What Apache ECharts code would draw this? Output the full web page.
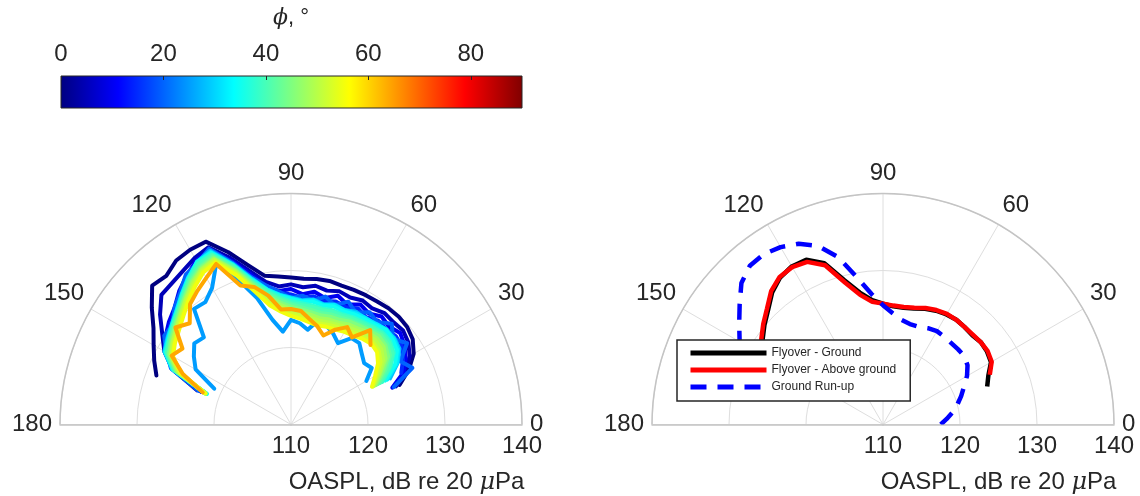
<!DOCTYPE html>
<html><head><meta charset="utf-8">
<script src="https://cdn.jsdelivr.net/npm/echarts@6/dist/echarts.min.js"></script>
<style>html,body{margin:0;padding:0;background:#fff}#c{width:1140px;height:496px}</style>
</head><body><div id="c"></div>
<script>
// ---------- data ----------
const THETA_L = [20,25,30,35,40,45,50,55,60,65,70,75,80,85,90,95,100,105,110,115,120,125,130,135,140,145,150,155,160];
const PHI = [0,5,10,15,20,25,28,32,35,38,40,42,45,48,50,52,55,64];
const R_PHI0  = [125.0,126.9,128.4,129.3,129.7,129.8,129.7,129.5,129.4,129.3,129.2,129.3,129.2,129.0,129.1,129.3,129.6,131.4,133.8,136.2,136.2,136.0,135.2,135.5,133.6,131.8,130.6,129.6,128.6];
const R_PHI5  = [124.5,126.5,127.8,128.6,129.0,128.8,128.9,128.4,128.6,128.2,128.4,128.0,128.3,127.9,128.2,128.0,128.8,130.6,133.0,135.4,135.0,134.4,134.0,133.8,132.2,130.4,129.0,127.0,123.0];
const R_PHI10 = [124.0,126.2,127.2,128.0,128.5,128.0,128.3,127.6,128.0,127.2,127.8,127.0,127.5,127.0,127.6,127.4,128.2,130.2,132.6,135.0,134.6,133.6,132.6,131.4,130.7,129.9,128.9,126.8,122.4];
const R_PHI15 = [null,125.8,126.8,127.6,127.8,127.5,127.6,127.0,127.4,126.8,127.0,126.6,126.9,126.5,126.9,127.2,128.0,129.8,132.3,134.8,134.3,133.4,132.3,131.0,130.4,129.6,128.8,126.9,122.0];
const R_PHI20 = [124.2,127.4,126.4,128.4,127.3,128.5,127.4,127.8,126.8,127.6,126.5,127.2,126.3,126.8,126.4,127.3,128.3,129.8,132.4,135.2,134.2,133.8,132.4,131.4,130.1,130.1,128.7,127.2,122.8];
const R_PHI25 = [null,null,121.3,122.8,122.4,123.0,123.8,123.7,122.2,123.0,123.6,124.1,122.5,123.2,123.6,122.1,123.8,127.0,130.0,133.0,130.5,129.4,129.6,126.0,126.4,125.4,124.3,121.0,null];
const R_PHI28 = [null,124.2,126.0,127.2,127.5,127.2,127.0,126.8,126.9,126.4,126.6,126.2,126.5,126.2,126.5,126.9,127.8,129.6,132.2,134.9,134.4,133.2,132.0,131.0,130.2,129.6,129.0,127.0,121.8];
const R_PHI32 = [null,123.8,125.9,127.0,127.4,127.5,127.1,126.9,126.7,126.4,126.5,126.1,126.4,126.1,126.4,126.9,127.8,129.5,132.1,134.7,134.3,133.3,132.1,131.0,130.2,129.5,128.9,127.0,121.7];
const R_PHI35 = [null,123.5,125.6,126.8,127.2,127.4,126.9,126.7,126.5,126.2,126.3,126.0,126.2,126.0,126.3,126.8,127.7,129.4,132.0,134.6,134.4,133.2,132.0,130.9,130.1,129.4,128.8,126.9,121.6];
const R_PHI38 = [null,123.1,124.9,126.3,126.8,126.9,126.6,126.3,126.1,125.8,125.8,125.6,125.7,125.8,126.0,126.6,127.6,129.2,131.9,134.4,134.2,133.1,131.9,130.8,130.0,129.3,128.7,126.8,121.7];
const R_PHI40 = [null,122.8,124.7,126.1,126.6,126.7,126.4,126.1,125.9,125.6,125.6,125.4,125.5,125.6,125.8,126.4,127.4,129.1,131.9,134.3,134.0,133.0,131.8,130.8,130.0,129.3,128.6,126.7,121.8];
const R_PHI42 = [null,122.5,124.2,125.7,126.3,126.5,126.1,125.8,125.6,125.3,125.2,125.0,125.1,125.3,125.6,126.2,127.2,128.9,131.6,134.1,133.7,132.8,131.6,130.6,129.8,129.1,128.4,126.5,121.8];
const R_PHI45 = [null,122.2,123.8,125.4,126.0,126.2,125.9,125.6,125.4,125.0,124.9,124.7,124.8,125.0,125.3,125.9,126.9,128.7,131.4,133.9,133.5,132.6,131.5,130.5,129.7,129.0,128.3,126.4,121.9];
const R_PHI48 = [null,122.0,123.4,125.0,125.7,125.8,125.6,125.2,125.0,124.6,124.5,124.3,124.5,124.7,125.0,125.6,126.6,128.4,131.2,133.7,133.3,132.4,131.3,130.3,129.5,128.8,128.1,126.2,121.9];
const R_PHI50 = [null,121.8,123.2,124.6,125.3,125.5,125.2,124.9,124.6,124.3,124.1,124.0,124.1,124.4,124.7,125.3,126.3,128.2,131.0,133.6,133.2,132.2,131.2,130.2,129.4,128.7,128.0,126.1,122.0];
const R_PHI52 = [null,121.7,122.9,124.2,124.9,125.1,124.8,124.5,124.2,124.0,123.8,123.6,123.8,124.1,124.4,125.0,126.0,128.0,130.8,133.4,133.0,132.0,131.0,130.0,129.2,128.5,127.8,125.9,121.9];
const R_PHI55 = [null,121.6,122.6,123.8,124.6,124.8,124.5,124.1,123.9,123.6,123.5,123.3,123.5,123.8,124.1,124.7,125.7,127.8,130.6,133.2,132.8,131.8,130.8,129.8,129.0,128.4,127.7,125.8,121.8];
const R_PHI64 = [null,null,null,null,null,124.6,126.0,123.8,124.6,123.6,122.3,123.2,123.9,124.8,125.0,125.0,127.0,128.5,129.2,133.0,132.0,131.2,130.4,128.6,129.6,127.2,127.9,125.5,122.2];
const LEFT_R = [R_PHI0,R_PHI5,R_PHI10,R_PHI15,R_PHI20,R_PHI25,R_PHI28,R_PHI32,R_PHI35,R_PHI38,R_PHI40,R_PHI42,R_PHI45,R_PHI48,R_PHI50,R_PHI52,R_PHI55,R_PHI64];

const THETA_R = [0,5,10,15,20,25,30,35,40,45,50,55,60,65,70,75,80,85,90,95,100,105,110,115,120,125,130,135,140,145,150,155,160];
const FLYOVER_GROUND = [null,null,null,null,124.4,125.1,126.2,126.5,126.6,126.4,126.5,126.6,126.5,126.3,126.0,125.6,125.4,125.4,125.7,126.2,127.4,129.4,132.3,133.6,133.7,133.3,132.4,131.1,130.1,129.1,127.6,125.3,122.3];
const FLYOVER_ABOVE  = [null,null,null,null,null,125.3,126.3,126.6,126.6,126.5,126.5,126.6,126.6,126.4,126.1,125.7,125.5,125.5,125.7,126.0,127.1,129.1,132.0,133.3,133.6,133.4,132.6,131.3,130.3,129.3,127.8,125.5,122.5];
const GROUND_RUNUP   = [117.5,118.3,119.2,120.0,120.8,121.6,122.6,123.4,123.8,123.8,123.8,123.9,124.0,123.8,123.5,123.5,123.8,124.5,125.5,127.0,129.4,132.5,134.7,135.9,136.6,137.0,136.9,136.0,134.3,132.8,131.5,130.0,128.5];
const LEGEND_NAMES = ['Flyover - Ground','Flyover - Above ground','Ground Run-up'];

const ANGLE_RANGE = [0,180];
const ANGLE_STEP = 30;
const RADIUS_RANGE = [110,140];
const RADIUS_STEP = 10;
const CBAR_RANGE = [0,90];
const CBAR_STEP = 20;

// ---------- style ----------
const FONT = '"Liberation Sans", Arial, Helvetica, sans-serif';
const TXT = '#262626';
const GRID_C = '#dedede';
const EDGE_C = '#c4c4c4';
const JET_STOPS = [
  {offset:0, color:'#000080'},{offset:0.125, color:'#0000ff'},{offset:0.375, color:'#00ffff'},
  {offset:0.625, color:'#ffff00'},{offset:0.875, color:'#ff0000'},{offset:1, color:'#800000'}];
function jet(v){
  const c = x => Math.round(255*Math.max(0, Math.min(1, 1.5 - Math.abs(x))));
  return 'rgb(' + c(4*v-3) + ',' + c(4*v-2) + ',' + c(4*v-1) + ')';
}
const CX_L = 291, CX_R = 883, CY = 424.5, RAD = 231;

function mainAngle(i){
  return {polarIndex:i, type:'value', min:ANGLE_RANGE[0], max:ANGLE_RANGE[1], interval:ANGLE_STEP,
    startAngle:0, endAngle:180, clockwise:false,
    axisLine:{show:true, lineStyle:{color:EDGE_C, width:1.5}},
    axisTick:{show:false},
    axisLabel:{show:true, margin:8, fontSize:24, color:TXT, fontFamily:FONT},
    splitLine:{show:true, lineStyle:{color:GRID_C, width:1}}, z:1};
}
function helperAngle(i){
  return {polarIndex:i, type:'value', min:ANGLE_RANGE[0], max:ANGLE_RANGE[1],
    startAngle:180, endAngle:0, clockwise:true,
    axisLine:{show:false}, axisTick:{show:false}, axisLabel:{show:false}, splitLine:{show:false}};
}
function mainRadius(i){
  return {polarIndex:i, type:'value', min:RADIUS_RANGE[0], max:RADIUS_RANGE[1], interval:RADIUS_STEP,
    axisLine:{show:true, lineStyle:{color:EDGE_C, width:1.5}},
    axisTick:{show:false}, axisLabel:{show:false},
    splitLine:{show:true, lineStyle:{color:GRID_C, width:1}}, z:1};
}
function helperRadius(i){
  return {polarIndex:i, type:'value', min:RADIUS_RANGE[0], max:RADIUS_RANGE[1],
    axisLine:{show:true, lineStyle:{color:EDGE_C, width:1.5}},
    axisTick:{show:false}, axisLabel:{show:false}, splitLine:{show:false}, z:1};
}
function radLabelAxis(g){
  return {gridIndex:g, type:'value', min:RADIUS_RANGE[0], max:RADIUS_RANGE[1], interval:RADIUS_STEP,
    axisLine:{show:false, onZero:false}, axisTick:{show:false}, splitLine:{show:false},
    axisLabel:{fontSize:24, color:TXT, fontFamily:FONT, margin:10},
    name:'OASPL, dB re 20 {i|\u03bc}Pa', nameLocation:'middle', nameGap:46,
    nameTextStyle:{fontSize:24, color:TXT, fontFamily:FONT,
      rich:{i:{fontSize:24, fontStyle:'italic', fontFamily:'"DejaVu Serif", serif', color:TXT}}}};
}
function toPolar(R, TH){
  return TH.map((t,i)=>[R[i], t]).filter(d=>d[0]!==null);
}

const series = [];
// colorbar
series.push({type:'custom', xAxisIndex:0, yAxisIndex:0, silent:true, z:1,
  data:[[CBAR_RANGE[0], CBAR_RANGE[1]]],
  renderItem:function(params, api){
    const p0 = api.coord([api.value(0), 0]);
    const p1 = api.coord([api.value(1), 1]);
    return {type:'rect', shape:{x:p0[0], y:p1[1], width:p1[0]-p0[0], height:p0[1]-p1[1]},
      style:{fill:new echarts.graphic.LinearGradient(0,0,1,0,JET_STOPS), stroke:TXT, lineWidth:1}};
  }});
// left plot
PHI.forEach((phi,k)=>{
  series.push({type:'line', coordinateSystem:'polar', polarIndex:0, symbol:'none', silent:true, z:3,
    data:toPolar(LEFT_R[k], THETA_L),
    lineStyle:{color:jet(phi/90), width:4, join:'round', cap:'round'},
    itemStyle:{color:jet(phi/90)}});
});
// right plot
series.push({name:LEGEND_NAMES[0], type:'line', coordinateSystem:'polar', polarIndex:2, symbol:'none', z:3,
  data:toPolar(FLYOVER_GROUND, THETA_R), lineStyle:{color:'#000000', width:4.5}, itemStyle:{color:'#000000'}});
series.push({name:LEGEND_NAMES[1], type:'line', coordinateSystem:'polar', polarIndex:2, symbol:'none', z:3,
  data:toPolar(FLYOVER_ABOVE, THETA_R), lineStyle:{color:'#ff0000', width:4.5}, itemStyle:{color:'#ff0000'}});
series.push({name:LEGEND_NAMES[2], type:'line', coordinateSystem:'polar', polarIndex:2, symbol:'none', z:3,
  data:toPolar(GROUND_RUNUP, THETA_R), lineStyle:{color:'#0000ff', width:4.5, type:[16,11]}, itemStyle:{color:'#0000ff'}});

const option = {
  animation:false,
  backgroundColor:'#ffffff',
  textStyle:{fontFamily:FONT},
  polar:[
    {center:[CX_L,CY], radius:RAD},
    {center:[CX_L,CY], radius:RAD},
    {center:[CX_R,CY], radius:RAD},
    {center:[CX_R,CY], radius:RAD}
  ],
  angleAxis:[mainAngle(0), helperAngle(1), mainAngle(2), helperAngle(3)],
  radiusAxis:[mainRadius(0), helperRadius(1), mainRadius(2), helperRadius(3)],
  grid:[
    {left:61, top:76, width:461, height:32, show:false},
    {left:CX_L, top:200, width:RAD, height:CY-200, show:false},
    {left:CX_R, top:200, width:RAD, height:CY-200, show:false}
  ],
  xAxis:[
    {gridIndex:0, type:'value', min:CBAR_RANGE[0], max:CBAR_RANGE[1], interval:CBAR_STEP, position:'top', z:5,
      axisLine:{show:false, onZero:false}, splitLine:{show:false},
      axisTick:{show:true, inside:true, length:4, lineStyle:{color:TXT, width:1}},
      axisLabel:{fontSize:24, color:TXT, fontFamily:FONT, margin:10, showMaxLabel:false}},
    radLabelAxis(1), radLabelAxis(2)
  ],
  yAxis:[
    {gridIndex:0, type:'value', min:0, max:1, show:false},
    {gridIndex:1, type:'value', min:0, max:1, show:false},
    {gridIndex:2, type:'value', min:0, max:1, show:false}
  ],
  legend:{data:LEGEND_NAMES, orient:'vertical', left:677, top:340, itemWidth:76, itemHeight:14, itemGap:5,
    padding:[7,14,8,11], backgroundColor:'#ffffff', borderColor:TXT, borderWidth:1.5, borderRadius:0,
    selectedMode:false, z:10, textStyle:{fontSize:12, color:TXT, fontFamily:FONT},
    itemStyle:{opacity:0}, lineStyle:{width:5}},
  graphic:[
    {type:'text', x:CX_L, y:18, z:10, style:{text:'{i|\u03d5}, \u00b0', textAlign:'center', textVerticalAlign:'middle',
      fontSize:22, fill:TXT, fontFamily:FONT,
      rich:{i:{fontSize:22, fontStyle:'italic', fontFamily:'"DejaVu Serif", serif', fill:TXT, color:TXT}}}}
  ],
  series:series
};
const chart = echarts.init(document.getElementById('c'), null, {renderer:'canvas'});
chart.setOption(option);
</script></body></html>
